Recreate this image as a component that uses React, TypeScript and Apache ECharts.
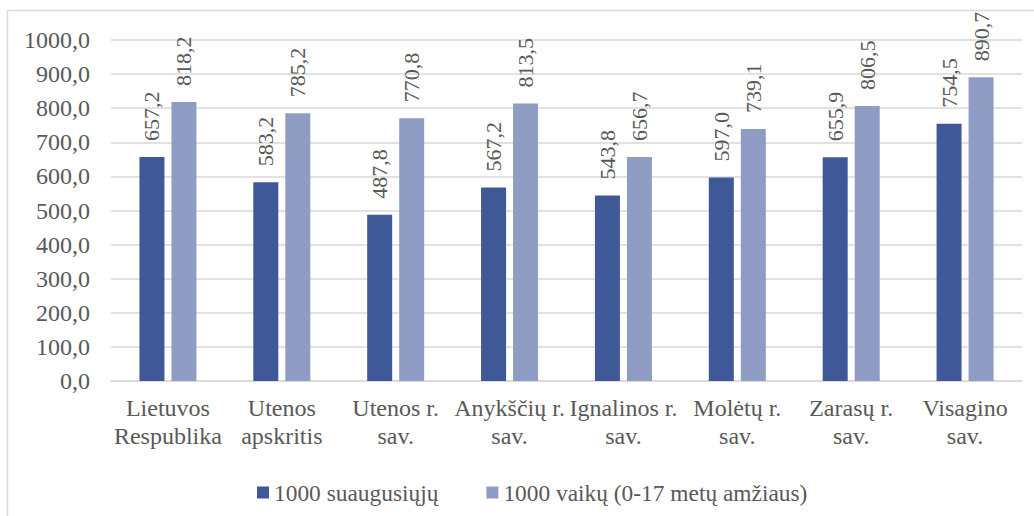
import React, { useEffect, useRef } from "react";
import * as echarts from "echarts";

const categories = [
  "Lietuvos\nRespublika",
  "Utenos\napskritis",
  "Utenos r.\nsav.",
  "Anykščių r.\nsav.",
  "Ignalinos r.\nsav.",
  "Molėtų r.\nsav.",
  "Zarasų r.\nsav.",
  "Visagino\nsav.",
];
const adults = [657.2, 583.2, 487.8, 567.2, 543.8, 597.0, 655.9, 754.5];
const children = [818.2, 785.2, 770.8, 813.5, 656.7, 739.1, 806.5, 890.7];
const seriesNames = ["1000 suaugusiųjų", "1000 vaikų (0-17 metų amžiaus)"];

const fmt = (v: number) => v.toFixed(1).replace(".", ",");
const FONT = "Liberation Serif";
const TXT = "#595959";

export default function App() {
  const ref = useRef<HTMLDivElement>(null);
  useEffect(() => {
    if (!ref.current) return;
    const chart = echarts.init(ref.current, undefined, { renderer: "svg" });
    const label = {
      show: true,
      position: "top" as const,
      rotate: 90,
      align: "left" as const,
      verticalAlign: "middle" as const,
      distance: 16,
      fontFamily: FONT,
      fontSize: 22,
      color: TXT,
      formatter: (p: any) => fmt(p.value),
    };
    chart.setOption({
      animation: false,
      textStyle: { fontFamily: FONT },
      graphic: [
        {
          type: "rect",
          shape: { x: 7.5, y: 10.5, width: 1100, height: 600 },
          style: { fill: "none", stroke: "#d9d9d9", lineWidth: 1.5 },
          silent: true,
        },
      ],
      grid: { left: 111, right: 12, top: 40, bottom: 135, containLabel: false },
      legend: {
        left: 252,
        top: 476,
        itemWidth: 12,
        itemHeight: 12,
        itemGap: 48,
        icon: "rect",
        textStyle: { fontFamily: FONT, fontSize: 23.4, color: TXT },
        data: seriesNames,
      },
      xAxis: {
        type: "category",
        data: categories,
        axisTick: { show: false },
        axisLine: { lineStyle: { color: "#d9d9d9", width: 1.5 } },
        axisLabel: {
          fontFamily: FONT,
          fontSize: 24,
          lineHeight: 28,
          color: TXT,
          margin: 13,
          interval: 0,
        },
      },
      yAxis: {
        type: "value",
        min: 0,
        max: 1000,
        interval: 100,
        axisLine: { show: false },
        axisTick: { show: false },
        splitLine: { lineStyle: { color: "#d9d9d9", width: 1.5 } },
        axisLabel: {
          fontFamily: FONT,
          fontSize: 24,
          color: TXT,
          margin: 21,
          formatter: (v: number) => fmt(v),
        },
      },
      series: [
        {
          name: seriesNames[0],
          type: "bar",
          data: adults,
          barWidth: 25,
          barGap: "28%",
          itemStyle: { color: "#3f5898" },
          label,
        },
        {
          name: seriesNames[1],
          type: "bar",
          data: children,
          barWidth: 25,
          barGap: "28%",
          itemStyle: { color: "#8f9dc4" },
          label,
        },
      ],
    });
    return () => chart.dispose();
  }, []);
  return (
    <div
      ref={ref}
      style={{ position: "fixed", left: 0, top: 0, width: 1034, height: 516, background: "#fff" }}
    />
  );
}
